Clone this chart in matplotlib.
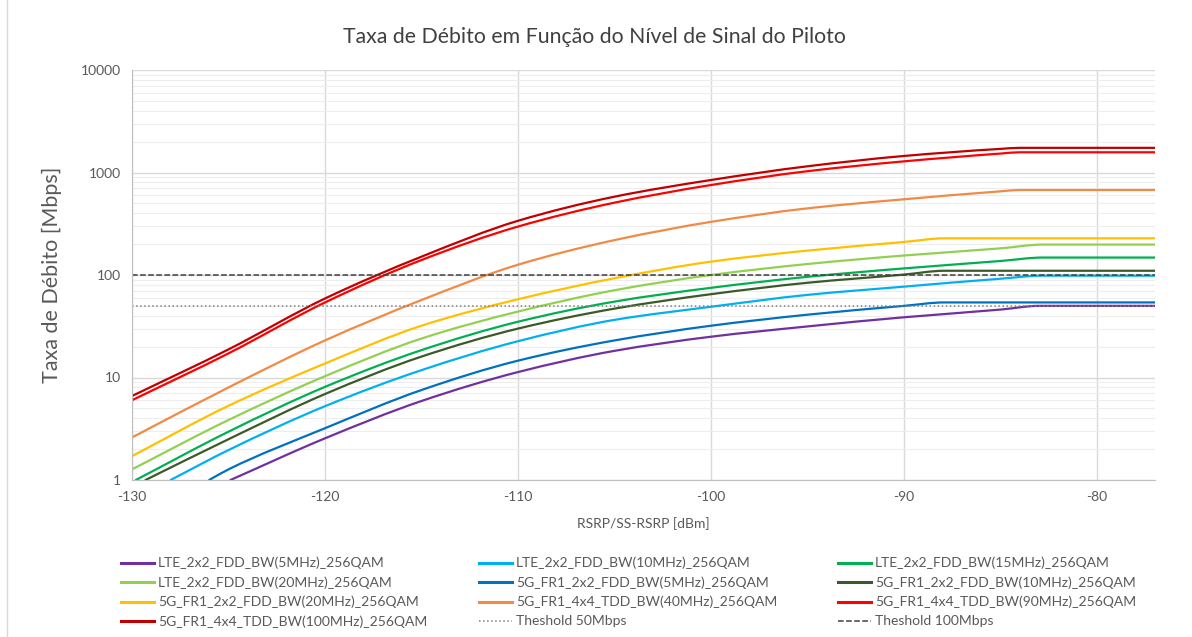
import numpy as np
import matplotlib.pyplot as plt
from matplotlib.patches import Rectangle, PathPatch
from matplotlib.path import Path
from matplotlib.lines import Line2D
from matplotlib.ticker import FixedLocator, NullFormatter

plt.rcParams['font.family'] = ['Lato', 'DejaVu Sans']
plt.rcParams['axes.unicode_minus'] = False

# RSRP points (dBm) and throughput values (Mbps)
lte_5_x = [-124.9, -120, -115, -110, -105, -100, -95, -90, -85, -83, -77]
lte_5_y = [1.0, 2.55, 5.9, 11.3, 18.2, 25, 31.5, 38.7, 46, 50, 50]

lte_10_x = [-128, -125, -120, -115, -110, -105, -100, -95, -90, -85, -82.8, -77]
lte_10_y = [1.0, 1.96, 5.25, 11.8, 22.6, 36.5, 49, 64, 77, 92, 98.5, 98.5]

lte_15_x = [-129.8, -125, -120, -115, -110, -105, -100, -95, -90, -85, -82.8, -77]
lte_15_y = [1.0, 2.96, 8.1, 18.5, 35, 55, 75, 96, 116, 137, 148, 148]

lte_20_x = [-130, -125, -120, -115, -110, -105, -100, -95, -90, -85, -82.8, -77]
lte_20_y = [1.27, 3.85, 10.3, 24, 44, 71, 100, 128, 155, 182, 198, 198]

nr_5_x = [-126, -125, -120, -115, -110, -105, -100, -95, -90, -87.9, -77]
nr_5_y = [1.0, 1.27, 3.2, 7.55, 14.6, 23, 32, 41, 50, 54, 54]

nr_10_x = [-129.3, -125, -120, -115, -110, -105, -100, -95, -90, -87.9, -77]
nr_10_y = [1.0, 2.5, 6.9, 16, 30, 47, 65, 84, 101, 110, 110]

nr_20_x = [-130, -125, -120, -115, -110, -105, -100, -95, -90, -87.9, -77]
nr_20_y = [1.71, 5.3, 13.7, 32, 58, 93, 135, 173, 210, 228, 228]

nr_40_x = [-130, -125, -120, -115, -110, -105, -100, -95, -90, -85, -84, -77]
nr_40_y = [2.6, 8.0, 23, 57, 126, 219, 330, 447, 548, 655, 675, 675]

nr_90_x = [-130, -125, -120, -115, -110, -105, -100, -95, -90, -85, -84, -77]
nr_90_y = [6.0, 17.2, 54, 140, 297, 508, 755, 1030, 1285, 1530, 1575, 1575]

nr_100_x = [-130, -125, -120, -115, -110, -105, -100, -95, -90, -85, -84, -77]
nr_100_y = [6.6, 18.8, 59, 151, 338, 581, 845, 1150, 1450, 1700, 1740, 1740]

series = [
    ('LTE_2x2_FDD_BW(5MHz)_256QAM', lte_5_x, lte_5_y, '#7030A0'),
    ('LTE_2x2_FDD_BW(10MHz)_256QAM', lte_10_x, lte_10_y, '#00B0F0'),
    ('LTE_2x2_FDD_BW(15MHz)_256QAM', lte_15_x, lte_15_y, '#00B050'),
    ('LTE_2x2_FDD_BW(20MHz)_256QAM', lte_20_x, lte_20_y, '#92D050'),
    ('5G_FR1_2x2_FDD_BW(5MHz)_256QAM', nr_5_x, nr_5_y, '#0070C0'),
    ('5G_FR1_2x2_FDD_BW(10MHz)_256QAM', nr_10_x, nr_10_y, '#3A5A28'),
    ('5G_FR1_2x2_FDD_BW(20MHz)_256QAM', nr_20_x, nr_20_y, '#FFC000'),
    ('5G_FR1_4x4_TDD_BW(40MHz)_256QAM', nr_40_x, nr_40_y, '#F08A45'),
    ('5G_FR1_4x4_TDD_BW(90MHz)_256QAM', nr_90_x, nr_90_y, '#FF0000'),
    ('5G_FR1_4x4_TDD_BW(100MHz)_256QAM', nr_100_x, nr_100_y, '#C00000'),
]

thresholds = [('Theshold 50Mbps', 50, ':'), ('Theshold 100Mbps', 100, '--')]

x_lim = (-130, -77)
x_ticks = [-130, -120, -110, -100, -90, -80]
y_ticks = [1, 10, 100, 1000, 10000]


def smooth_line(ax, xs, ys, color, lw):
    # smoothed line like excel: monotone cubic through the points, drawn as bezier in (x, log y)
    x = np.array(xs, float)
    y = np.log10(ys)
    h = np.diff(x)
    d = np.diff(y) / h
    m = np.zeros_like(y)
    m[0], m[-1] = d[0], d[-1]
    for i in range(1, len(y) - 1):
        if d[i - 1] * d[i] > 0:
            w1 = 2 * h[i] + h[i - 1]
            w2 = h[i] + 2 * h[i - 1]
            m[i] = (w1 + w2) / (w1 / d[i - 1] + w2 / d[i])
    verts = [(x[0], y[0])]
    codes = [Path.MOVETO]
    for i in range(len(x) - 1):
        verts += [(x[i] + h[i] / 3, y[i] + m[i] * h[i] / 3),
                  (x[i + 1] - h[i] / 3, y[i + 1] - m[i + 1] * h[i] / 3),
                  (x[i + 1], y[i + 1])]
        codes += [Path.CURVE4] * 3
    verts = np.array(verts)
    verts[:, 1] = 10 ** verts[:, 1]
    ax.add_patch(PathPatch(Path(verts, codes), fill=False, edgecolor=color,
                           linewidth=lw, capstyle='round', joinstyle='round'))
    return Line2D([], [], color=color, linewidth=lw + 0.6)


fig = plt.figure(figsize=(11.92, 6.37), dpi=100)
fig.patches.append(Rectangle((7 / 1192, -0.01), 1.2, 1.2, transform=fig.transFigure,
                             fill=False, edgecolor='#D9D9D9', linewidth=1))
ax = fig.add_axes([132 / 1192, 1 - 480 / 637, (1155 - 132) / 1192, (480 - 70) / 637])

handles = []
labels = []
for name, xs, ys, col in series:
    handles.append(smooth_line(ax, xs, ys, col, 1.6))
    labels.append(name)
for name, val, ls in thresholds:
    h, = ax.plot(x_lim, [val, val], color='#404040' if val == 100 else '#7F7F7F',
                 linestyle=ls, linewidth=1.1)
    handles.append(h)
    labels.append(name)

ax.set_yscale('log')
ax.set_xlim(x_lim)
ax.set_ylim(1, 10000)
ax.set_xticks(x_ticks)
ax.yaxis.set_major_locator(FixedLocator(y_ticks))
ax.set_yticklabels([str(v) for v in y_ticks])
ax.yaxis.set_minor_locator(FixedLocator([m * 10 ** d for d in range(4) for m in range(2, 10)]))
ax.yaxis.set_minor_formatter(NullFormatter())
ax.grid(True, which='major', color='#D9D9D9', linewidth=1)
ax.grid(True, which='minor', axis='y', color='#EDEDED', linewidth=0.8)
ax.set_axisbelow(True)
ax.tick_params(which='both', length=0, colors='#595959', labelsize=10, pad=8)
for s in ['top', 'right']:
    ax.spines[s].set_visible(False)
for s in ['left', 'bottom']:
    ax.spines[s].set_color('#BFBFBF')

fig.text(594 / 1192, 1 - 37 / 637, 'Taxa de Débito em Função do Nível de Sinal do Piloto',
         ha='center', va='center', fontsize=15.3, color='#404040')
ax.set_ylabel('Taxa de Débito [Mbps]', fontsize=15.5, color='#595959')
ax.yaxis.set_label_coords(-0.068, 0.5)
ax.set_xlabel('RSRP/SS-RSRP [dBm]', fontsize=10, color='#595959', labelpad=10)

# legend filled row by row, three columns
col_x = [114, 472, 831]
for c in range(3):
    fig.legend(handles[c::3], labels[c::3], loc='upper left',
               bbox_to_anchor=(col_x[c] / 1192, 1 - 550 / 637), frameon=False,
               fontsize=10, handlelength=2.4, handletextpad=0.25, labelspacing=0.5,
               labelcolor='#595959', borderpad=0)

fig.savefig('out.png', dpi=100)
